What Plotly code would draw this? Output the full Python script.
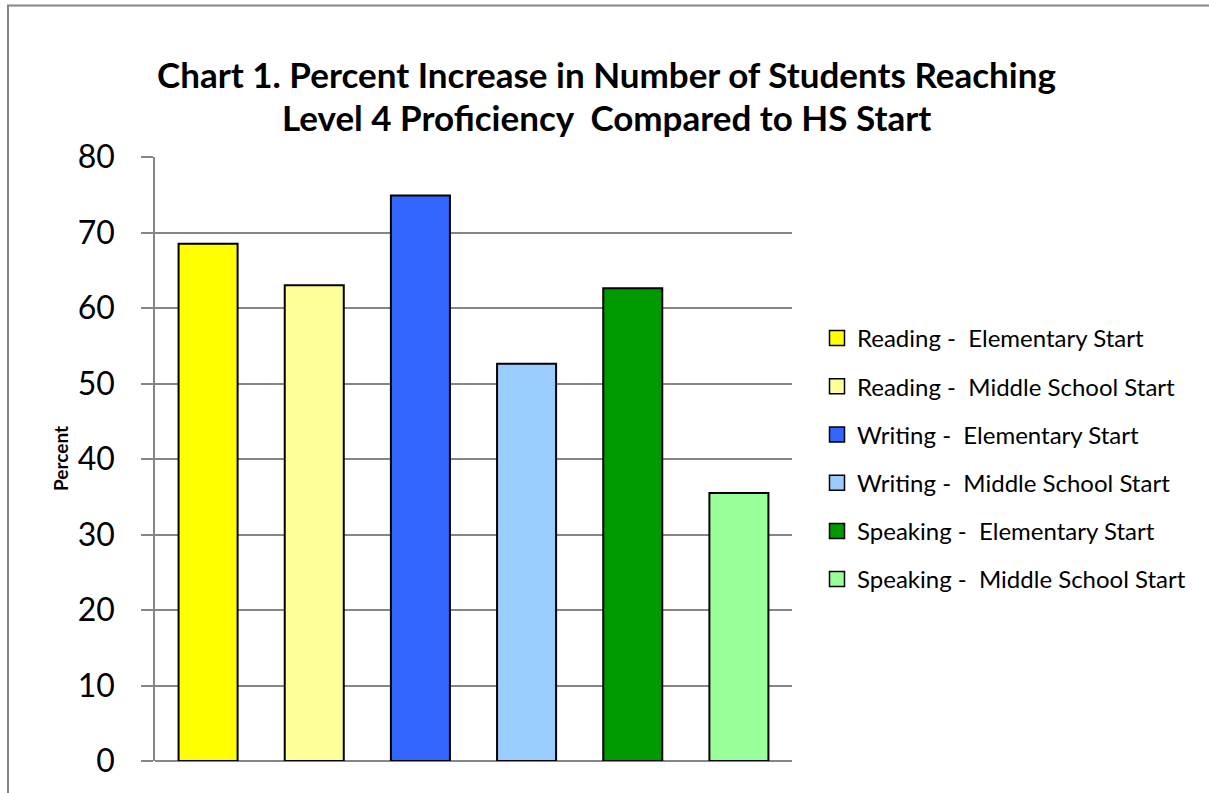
import plotly.graph_objects as go

# ---- data ----
series_names = [
    "Reading -  Elementary Start",
    "Reading -  Middle School Start",
    "Writing -  Elementary Start",
    "Writing -  Middle School Start",
    "Speaking -  Elementary Start",
    "Speaking -  Middle School Start",
]
values = [68.5, 63.0, 74.9, 52.6, 62.6, 35.5]
colors = ["#FFFF00", "#FFFF99", "#3366FF", "#99CCFF", "#009900", "#99FF99"]
y_ticks = [0, 10, 20, 30, 40, 50, 60, 70, 80]
title_lines = [
    "Chart 1. Percent Increase in Number of Students Reaching",
    "Level 4 Proficiency  Compared to HS Start",
]
y_title = "Percent"

W, H = 1209, 793
L, R, T, B = 155, 792, 157.3, 760.7
pw, ph = R - L, B - T

def px_x(p):
    return (p - L) / pw

def px_y(p):
    return (B - p) / ph

def nb(s):
    return s.replace("  ", "\u00a0 ")

GRID = "#868686"
FONT = "Lato"

fig = go.Figure()
for i, (n, v, c) in enumerate(zip(series_names, values, colors)):
    fig.add_trace(go.Bar(
        x=[n], y=[v], name=nb(n),
        marker=dict(color=c, line=dict(color="#000000", width=2)),
        width=0.556, showlegend=False,
    ))
    # legend entry with a larger square symbol
    fig.add_trace(go.Scatter(
        x=[None], y=[None], mode="markers", name=nb(n),
        marker=dict(symbol="square", size=15, color=c, line=dict(color="#000000", width=1.5)),
        legendgroup=f"g{i}", showlegend=True,
    ))

annotations = [dict(
    text="<b>" + y_title + "</b>", textangle=-90,
    x=px_x(60), y=px_y(459), xref="paper", yref="paper",
    xanchor="center", yanchor="middle", showarrow=False,
    font=dict(family=FONT, size=19, color="#000000"),
)]
for line, yc in zip(title_lines, [74, 117]):
    annotations.append(dict(
        text="<b>" + nb(line) + "</b>",
        x=px_x(606), y=px_y(yc), xref="paper", yref="paper",
        xanchor="center", yanchor="middle", showarrow=False,
        font=dict(family=FONT, size=35, color="#000000"),
    ))

fig.update_layout(
    width=W, height=H,
    margin=dict(l=L, r=W - R, t=T, b=H - B, autoexpand=False),
    paper_bgcolor="white", plot_bgcolor="white",
    barmode="overlay",
    font=dict(family=FONT, color="#000000"),
    xaxis=dict(
        type="category", categoryorder="array", categoryarray=series_names,
        range=[-0.5, 5.5], showticklabels=False, ticks="",
        showgrid=False, showline=False, zeroline=False,
    ),
    yaxis=dict(
        range=[0, 80], tickvals=y_ticks, ticks="outside", ticklen=12,
        tickcolor=GRID, tickwidth=1.5, showline=True, linecolor=GRID, linewidth=1.5,
        showgrid=True, gridcolor=GRID, gridwidth=1.5, zeroline=True,
        zerolinecolor=GRID, zerolinewidth=1.5,
        tickfont=dict(family=FONT, size=32, color="#000000"),
        ticklabelstandoff=20,
    ),
    legend=dict(
        x=px_x(817), y=px_y(459), xanchor="left", yanchor="middle",
        font=dict(family=FONT, size=24, color="#000000"),
        tracegroupgap=14, bgcolor="rgba(0,0,0,0)", itemwidth=30,
    ),
    annotations=annotations,
    shapes=[dict(
        type="rect", xref="paper", yref="paper",
        x0=px_x(8), y0=px_y(6), x1=px_x(1230), y1=px_y(820),
        line=dict(color=GRID, width=2), fillcolor="rgba(0,0,0,0)", layer="below",
    )],
)

fig.write_html("out.html")
